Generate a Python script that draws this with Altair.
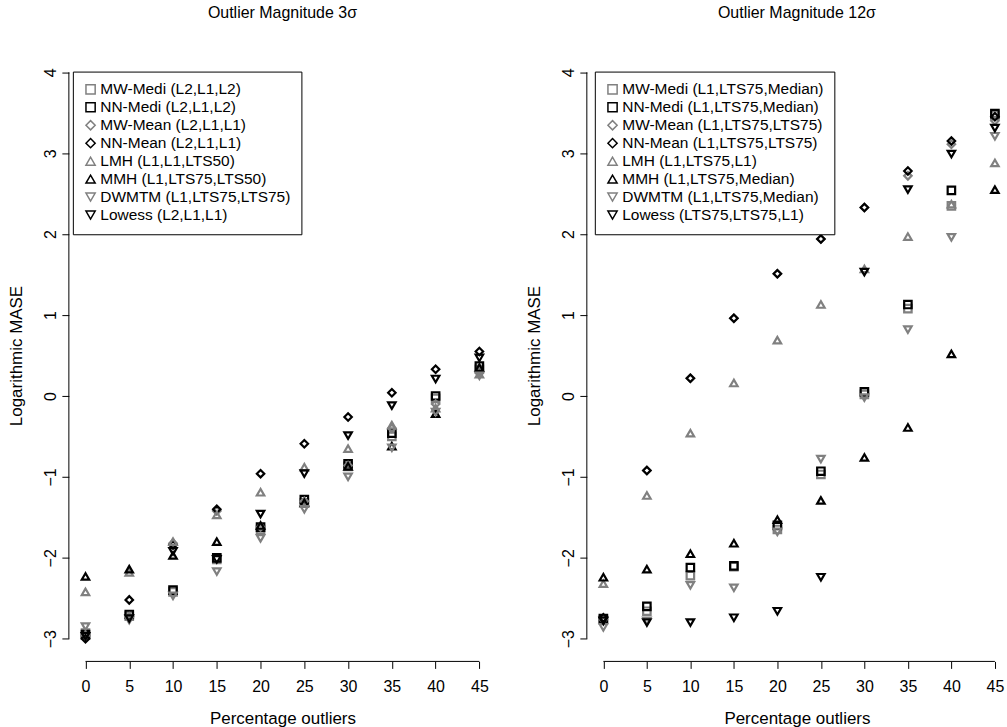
import altair as alt
import pandas as pd

pct = [0, 5, 10, 15, 20, 25, 30, 35, 40, 45]
methods = ["MW-Medi", "NN-Medi", "MW-Mean", "NN-Mean", "LMH", "MMH", "DWMTM", "Lowess"]

labels_3 = ["MW-Medi (L2,L1,L2)", "NN-Medi (L2,L1,L2)", "MW-Mean (L2,L1,L1)",
            "NN-Mean (L2,L1,L1)", "LMH (L1,L1,LTS50)", "MMH (L1,LTS75,LTS50)",
            "DWMTM (L1,LTS75,LTS75)", "Lowess (L2,L1,L1)"]
labels_12 = ["MW-Medi (L1,LTS75,Median)", "NN-Medi (L1,LTS75,Median)",
             "MW-Mean (L1,LTS75,LTS75)", "NN-Mean (L1,LTS75,LTS75)",
             "LMH (L1,LTS75,L1)", "MMH (L1,LTS75,Median)",
             "DWMTM (L1,LTS75,Median)", "Lowess (LTS75,LTS75,L1)"]

# Outlier magnitude 3 sigma
mw_medi_3 = [-2.93, -2.72, -2.42, -2.02, -1.65, -1.32, -0.87, -0.50, -0.03, 0.33]
nn_medi_3 = [-2.95, -2.70, -2.40, -2.00, -1.62, -1.28, -0.84, -0.46, 0.00, 0.37]
mw_mean_3 = [-2.96, -2.73, -1.82, -1.42, -1.62, -1.30, -0.86, -0.40, -0.10, 0.30]
nn_mean_3 = [-3.00, -2.52, -1.84, -1.40, -0.96, -0.59, -0.26, 0.04, 0.33, 0.55]
lmh_3 = [-2.42, -2.18, -1.80, -1.47, -1.19, -0.88, -0.65, -0.36, -0.15, 0.27]
mmh_3 = [-2.23, -2.14, -1.97, -1.80, -1.60, -1.32, -0.87, -0.62, -0.22, 0.35]
dwmtm_3 = [-2.85, -2.77, -2.47, -2.17, -1.76, -1.40, -1.00, -0.64, -0.20, 0.25]
lowess_3 = [-2.97, -2.75, -1.92, -2.02, -1.46, -0.96, -0.49, -0.12, 0.21, 0.47]

# Outlier magnitude 12 sigma
mw_medi_12 = [-2.77, -2.66, -2.22, -2.11, -1.65, -0.97, 0.02, 1.08, 2.35, 3.47]
nn_medi_12 = [-2.75, -2.60, -2.12, -2.10, -1.60, -0.93, 0.05, 1.13, 2.54, 3.49]
mw_mean_12 = [-2.76, -0.92, 0.22, 0.96, 1.51, 1.94, 2.33, 2.72, 3.11, 3.40]
nn_mean_12 = [-2.74, -0.92, 0.22, 0.96, 1.51, 1.94, 2.33, 2.78, 3.15, 3.45]
lmh_12 = [-2.32, -1.23, -0.46, 0.16, 0.69, 1.13, 1.57, 1.97, 2.37, 2.88]
mmh_12 = [-2.24, -2.14, -1.95, -1.82, -1.53, -1.29, -0.76, -0.39, 0.52, 2.55]
dwmtm_12 = [-2.86, -2.78, -2.34, -2.37, -1.68, -0.78, -0.02, 0.82, 1.96, 3.21]
lowess_12 = [-2.78, -2.80, -2.80, -2.74, -2.66, -2.24, 1.53, 2.55, 2.99, 3.31]

shapes = ["square", "square", "diamond", "diamond",
          "triangle-up", "triangle-up", "triangle-down", "triangle-down"]
colors = ["#808080", "#000000"] * 4
sizes = [56, 56, 115, 115, 140, 140, 140, 140]

FONT = "Liberation Sans"


def make_df(series_list, labels):
    rows = []
    for i, (lab, vals) in enumerate(zip(labels, series_list)):
        for p, v in zip(pct, vals):
            rows.append({"pct": p, "value": v, "label": lab, "k": i})
    return pd.DataFrame(rows)


def panel(series_list, labels, title, width, xmax, legend_x):
    df = make_df(series_list, labels)
    xscale = alt.Scale(domain=[-1.9, xmax], nice=False, zero=False)
    yscale = alt.Scale(domain=[-3.28, 4.28], nice=False, zero=False)
    xaxis = alt.Axis(values=pct, domain=False, grid=False, tickSize=7,
                     tickColor="black", labelColor="black", labelFontSize=16,
                     labelFont=FONT, labelPadding=10, title="Percentage outliers",
                     titleFont=FONT, titleFontSize=17, titleFontWeight="normal",
                     titleColor="black", titlePadding=16)
    yaxis = alt.Axis(values=[-3, -2, -1, 0, 1, 2, 3, 4], format="d", domain=False,
                     grid=False, tickSize=7, tickColor="black", labelColor="black",
                     labelFontSize=16, labelFont=FONT, labelAngle=270,
                     labelAlign="center", labelBaseline="bottom", labelPadding=3,
                     title="Logarithmic MASE", titleFont=FONT, titleFontSize=17,
                     titleFontWeight="normal", titleColor="black", titlePadding=17)
    legend = alt.Legend(title=None, orient="none", legendX=legend_x, legendY=22,
                        strokeColor="black", fillColor="white", padding=10,
                        labelFont=FONT, labelFontSize=15.5, labelColor="black",
                        labelLimit=400, symbolStrokeWidth=1.5, symbolSize=85,
                        symbolFillColor="white", rowPadding=1, labelOffset=2,
                        cornerRadius=0)
    pts = alt.Chart(df).mark_point(filled=False, strokeWidth=2.2, opacity=1).encode(
        x=alt.X("pct:Q", scale=xscale, axis=xaxis),
        y=alt.Y("value:Q", scale=yscale, axis=yaxis),
        shape=alt.Shape("label:N", scale=alt.Scale(domain=labels, range=shapes),
                        legend=legend),
        stroke=alt.Stroke("label:N", scale=alt.Scale(domain=labels, range=colors),
                          legend=legend),
        size=alt.Size("k:O", scale=alt.Scale(domain=list(range(8)), range=sizes),
                      legend=None),
        order=alt.Order("k:Q"),
    )
    one = pd.DataFrame({"d": [0]})
    xline = alt.Chart(one).mark_rule(color="black", strokeWidth=1).encode(
        x=alt.datum(0), x2=alt.datum(45), y=alt.value(613))
    yline = alt.Chart(one).mark_rule(color="black", strokeWidth=1).encode(
        y=alt.datum(-3), y2=alt.datum(4), x=alt.value(0))
    return alt.layer(pts, xline, yline).properties(
        width=width, height=613,
        title=alt.TitleParams(title, font=FONT, fontSize=16, fontWeight="normal",
                              color="black", anchor="middle", offset=29),
    )


left = panel([mw_medi_3, nn_medi_3, mw_mean_3, nn_mean_3, lmh_3, mmh_3, dwmtm_3, lowess_3],
             labels_3, "Outlier Magnitude 3\u03c3", 428, 46.9, 4)
right = panel([mw_medi_12, nn_medi_12, mw_mean_12, nn_mean_12, lmh_12, mmh_12, dwmtm_12, lowess_12],
              labels_12, "Outlier Magnitude 12\u03c3", 421, 46.39, 8)

chart = alt.hconcat(left, right, spacing=91, bounds="flush").resolve_scale(
    shape="independent", stroke="independent", size="independent"
).configure_view(stroke=None).properties(
    padding={"left": 8, "top": 4, "right": 0, "bottom": 0}, background="white")

chart.save("out.html", embed_options={"renderer": "svg", "actions": False})
